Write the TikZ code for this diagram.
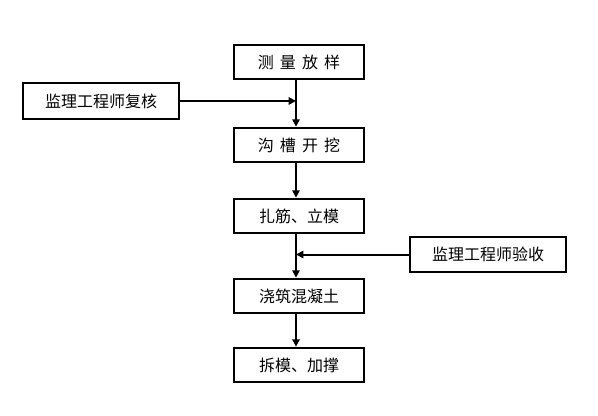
\documentclass[tikz,border=0pt]{standalone}
\usepackage{fontspec}
\newfontfamily\cjk{Noto Sans CJK SC}
\usetikzlibrary{arrows.meta}
\newcommand\gap{\hspace{0.38em}}
\tikzset{
  stepbox/.style={draw, line width=1.5pt, minimum width=97pt, minimum height=26pt,
    inner sep=0pt, font=\cjk\fontsize{12pt}{14pt}\selectfont},
  checkbox/.style={stepbox, minimum width=117.5pt, minimum height=26.5pt},
  flow/.style={line width=1.5pt, -{Triangle[length=5.5pt,width=5.5pt]}},
}

\begin{document}
\begin{tikzpicture}[x=0.75pt,y=-0.75pt]
		\useasboundingbox (0,0) rectangle (598,416);
		
		% main steps
		\node[stepbox] (survey) at (299,62) {测\gap 量\gap 放\gap 样};
		\node[stepbox] (trench) at (299,145) {沟\gap 槽\gap 开\gap 挖};
		\node[stepbox] (rebar) at (299,216) {扎筋、立模};
		\node[stepbox] (pour) at (299,296) {浇筑混凝土};
		\node[stepbox] (strip) at (299,365) {拆模、加撑};
		
		% supervision
		\node[checkbox] (review) at (101,101) {监理工程师复核};
		\node[checkbox] (accept) at (488,254.5) {监理工程师验收};
		
		\coordinate (spine) at (296,0);
		\coordinate (j1) at (spine |- review.east);
		\coordinate (j2) at (spine |- accept.west);
		
		\draw[flow] (survey.south -| spine) -- (trench.north -| spine);
		\draw[flow] (trench.south -| spine) -- (rebar.north -| spine);
		\draw[flow] (rebar.south -| spine) -- (pour.north -| spine);
		\draw[flow] (pour.south -| spine) -- (strip.north -| spine);
		
		\draw[flow] (review.east) -- (j1);
		\draw[flow] (accept.west) -- (j2);
\end{tikzpicture}
\end{document}
